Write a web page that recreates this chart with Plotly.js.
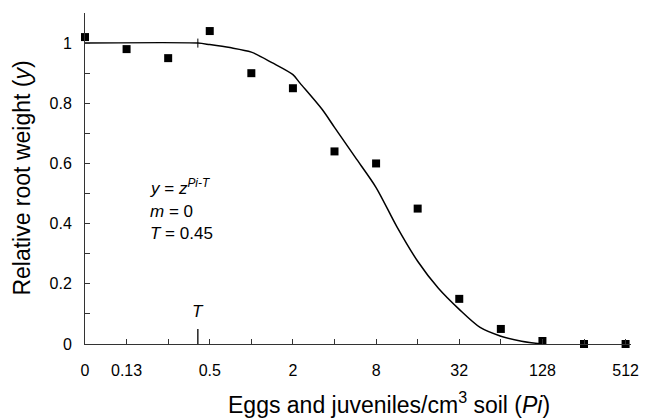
<!DOCTYPE html>
<html>
<head>
<meta charset="utf-8">
<script src="https://cdn.plot.ly/plotly-3.0.1.min.js"></script>
<style>html,body{margin:0;padding:0;background:#fff;}#chart{width:652px;height:420px;}</style>
</head>
<body>
<div id="chart"></div>
<script>
// Categories on the x axis (Pi, eggs and juveniles per cm3 soil); "0" sits one doubling below 0.13
const piLabels = ["0", "0.13", "", "0.5", "", "2", "", "8", "", "32", "", "128", "", "512"];
const piValues = [0.0625, 0.125, 0.25, 0.5, 1, 2, 4, 8, 16, 32, 64, 128, 256, 512];
// Observed relative root weight (y)
const relWeight = [1.02, 0.98, 0.95, 1.04, 0.90, 0.85, 0.64, 0.60, 0.45, 0.15, 0.05, 0.01, 0.00, 0.00];
// Fitted curve
const curvePi = [0.0625, 0.41, 0.5, 0.7, 1, 1.41, 2, 2.25, 3.25, 4, 5.66, 8, 11.3, 16, 22.6, 32, 45.3, 64, 90.5, 128];
const curveY  = [1, 1, 0.995, 0.985, 0.97, 0.935, 0.895, 0.867, 0.78, 0.72, 0.62, 0.52, 0.39, 0.275, 0.185, 0.115, 0.055, 0.026, 0.009, 0];
// Tolerance limit T marker
const tMark = 0.41;
// y ticks
const yTickVals = [0, 0.1, 0.2, 0.3, 0.4, 0.5, 0.6, 0.7, 0.8, 0.9, 1.0, 1.1];
const yTickText = ["0", "", "0.2", "", "0.4", "", "0.6", "", "0.8", "", "1", ""];

const FONT = "Liberation Sans, Arial, sans-serif";
const AX = "#333";

const traces = [
  {
    x: curvePi, y: curveY, type: "scatter", mode: "lines",
    line: {color: "#000", width: 1.5, shape: "spline", smoothing: 0.8},
    hoverinfo: "skip", showlegend: false
  },
  {
    x: piValues, y: relWeight, type: "scatter", mode: "markers",
    marker: {symbol: "square", size: 8, color: "#000"},
    showlegend: false, cliponaxis: false
  }
];

const layout = {
  width: 652, height: 420,
  margin: {l: 85, r: 21, t: 13, b: 76},
  paper_bgcolor: "#fff", plot_bgcolor: "#fff",
  font: {family: FONT, size: 16, color: "#000"},
  showlegend: false,
  xaxis: {
    type: "log",
    range: [Math.log10(0.0625), Math.log10(512 * Math.pow(2, 0.13))],
    tickvals: piValues, ticktext: piLabels,
    ticks: "inside", ticklen: 5, tickcolor: AX, tickwidth: 1,
    ticklabelstandoff: 12,
    showline: true, linecolor: AX, linewidth: 1,
    showgrid: false, zeroline: false,
    tickfont: {family: FONT, size: 16, color: "#000"}
  },
  yaxis: {
    range: [0, 1.1],
    tickvals: yTickVals, ticktext: yTickText,
    ticks: "inside", ticklen: 5, tickcolor: AX, tickwidth: 1,
    ticklabelstandoff: 9,
    showline: true, linecolor: AX, linewidth: 1,
    showgrid: false, zeroline: false,
    tickfont: {family: FONT, size: 16, color: "#000"}
  },
  shapes: [
    {type: "line", xref: "x", yref: "y", x0: tMark, x1: tMark, y0: 0, y1: 0.05, line: {color: "#000", width: 1.3}},
    {type: "line", xref: "x", yref: "y", x0: tMark, x1: tMark, y0: 0.985, y1: 1.015, line: {color: "#000", width: 1}}
  ],
  annotations: [
    {xref: "paper", yref: "paper", x: 0.556, y: -0.2296, xanchor: "center", yanchor: "bottom",
     text: "Eggs and juveniles/cm<sup>3</sup> soil (<i>Pi</i>)", showarrow: false, font: {family: FONT, size: 23, color: "#000"}},
    {xref: "paper", yref: "paper", x: -0.117, y: 0.50, xanchor: "center", yanchor: "middle", textangle: -90,
     text: "Relative root weight (<i>y</i>)", showarrow: false, font: {family: FONT, size: 23, color: "#000"}},
    {xref: "x", yref: "y", x: Math.log10(tMark), y: 0.107, text: "<i>T</i>", showarrow: false, font: {family: FONT, size: 17}},
    {xref: "paper", yref: "paper", x: 0.115, y: 0.475, xanchor: "left", text: "<i>y</i> = <i>z</i><sup><i>Pi-T</i></sup>", showarrow: false, font: {family: FONT, size: 17}},
    {xref: "paper", yref: "paper", x: 0.115, y: 0.40, xanchor: "left", text: "<i>m</i> = 0", showarrow: false, font: {family: FONT, size: 17}},
    {xref: "paper", yref: "paper", x: 0.115, y: 0.335, xanchor: "left", text: "<i>T</i> = 0.45", showarrow: false, font: {family: FONT, size: 17}}
  ]
};

Plotly.newPlot("chart", traces, layout, {staticPlot: true, displayModeBar: false});
</script>
</body>
</html>
